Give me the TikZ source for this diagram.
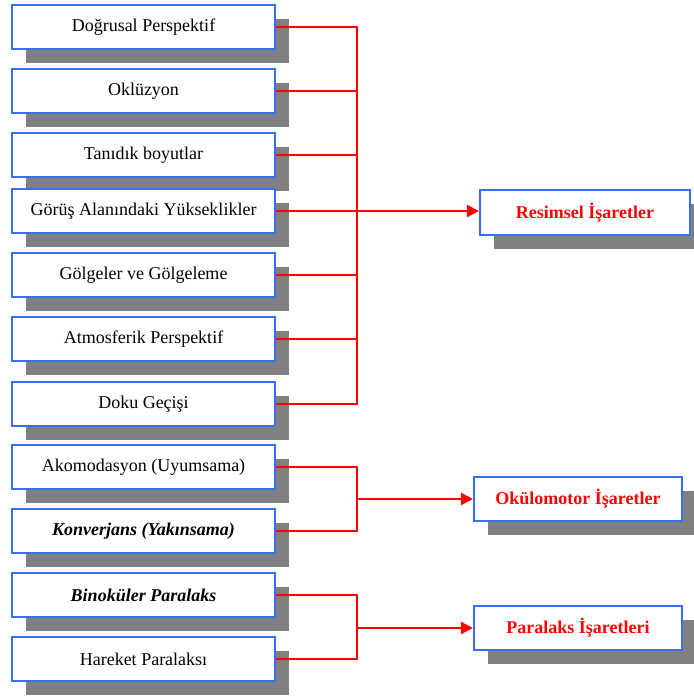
\documentclass[tikz,border=0pt]{standalone}
\usepackage{fontspec}
\setmainfont{Liberation Serif}
\usetikzlibrary{arrows.meta,shadows}
\definecolor{boxblue}{RGB}{59,108,245}
\definecolor{shgray}{RGB}{128,128,128}
\definecolor{lred}{RGB}{255,0,0}
\tikzset{
  shbox/.style={draw=boxblue, line width=1.6pt, fill=white, inner sep=0pt,
    font=\fontsize{13.5}{16}\selectfont,
    drop shadow={shadow xshift=10.5pt, shadow yshift=-10.5pt, fill=shgray, opacity=1}},
  leftbox/.style={shbox, minimum width=197pt, minimum height=33.5pt},
  rightbox/.style={shbox, minimum width=157.5pt, minimum height=33.5pt, text=lred,
    font=\fontsize{13.5}{16}\selectfont\bfseries},
  link/.style={draw=lred, line width=1.3pt},
  arr/.style={draw=lred, line width=1.8pt, -{Triangle[length=9pt,width=9pt]}}
}
\begin{document}
\begin{tikzpicture}[x=0.75pt,y=-0.75pt]
\useasboundingbox (0,0) rectangle (693,698);
\fill[white] (0,0) rectangle (693,698);
\node[leftbox] (a1) at (143.5,27) {Doğrusal Perspektif};
\node[leftbox] (a2) at (143.5,91) {Oklüzyon};
\node[leftbox] (a3) at (143.5,155) {Tanıdık boyutlar};
\node[leftbox] (a4) at (143.5,211) {Görüş Alanındaki Yükseklikler};
\node[leftbox] (a5) at (143.5,275) {Gölgeler ve Gölgeleme};
\node[leftbox] (a6) at (143.5,339) {Atmosferik Perspektif};
\node[leftbox] (a7) at (143.5,404) {Doku Geçişi};
\node[leftbox] (b1) at (143.5,467) {Akomodasyon (Uyumsama)};
\node[leftbox] (b2) at (143.5,531) {\bfseries\itshape Konverjans (Yakınsama)};
\node[leftbox] (c1) at (143.5,595) {\bfseries\itshape Binoküler Paralaks};
\node[leftbox] (c2) at (143.5,659) {Hareket Paralaksı};
\node[rightbox] (r1) at (585,212.5) {Resimsel İşaretler};
\node[rightbox, minimum width=156pt] (r2) at (578,499) {Okülomotor İşaretler};
\node[rightbox, minimum width=156pt] (r3) at (578,628) {Paralaks İşaretleri};
% group 1
\coordinate (v1) at (357,0);
\draw[link] (a1.east) -- (a1.east -| v1) -- (a7.east -| v1) -- (a7.east);
\foreach \n in {a2,a3,a5,a6}{\draw[link] (\n.east) -- (\n.east -| v1);}
\draw[arr] (a4.east) -- (a4.east -| r1.west);
% group 2
\draw[link] (b1.east) -- (b1.east -| v1) -- (b2.east -| v1) -- (b2.east);
\draw[arr] (r2.west -| v1) -- (r2.west);
% group 3
\draw[link] (c1.east) -- (c1.east -| v1) -- (c2.east -| v1) -- (c2.east);
\draw[arr] (r3.west -| v1) -- (r3.west);
\end{tikzpicture}
\end{document}
